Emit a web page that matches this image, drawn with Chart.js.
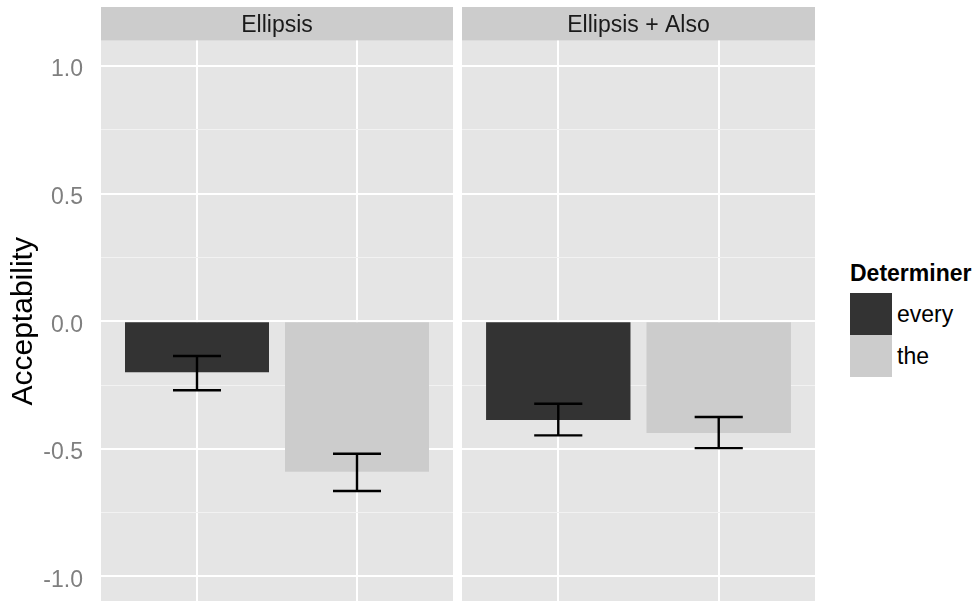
<!DOCTYPE html>
<html>
<head>
    <title>Acceptability by Determiner</title>
    <script src="https://cdn.jsdelivr.net/npm/chart.js"></script>
    <style>
        body {
            margin: 0;
            background: white;
            overflow: hidden;
            font-family: 'Liberation Sans', Arial, sans-serif;
        }

        .page {
            position: relative;
            width: 975px;
            height: 601px;
        }

        canvas {
            position: absolute;
            top: 0;
        }

        .legend-title {
            position: absolute;
            left: 850px;
            top: 260px;
            font-size: 23px;
            line-height: 27px;
            font-weight: bold;
            color: #000;
        }

        .legend-key {
            position: absolute;
            left: 850px;
            width: 42px;
            height: 42px;
        }

        .legend-label {
            position: absolute;
            left: 897px;
            font-size: 23px;
            line-height: 42px;
            color: #000;
        }
    </style>
</head>
<body>
    <div class="page" id="page">
        <canvas id="leftPanel" width="453" height="602" style="left:0"></canvas>
        <canvas id="rightPanel" width="353" height="602" style="left:462px"></canvas>
    </div>

    <script>
        const panels = ['Ellipsis', 'Ellipsis + Also'];
        const determiners = ['every', 'the'];
        const fillColors = ['#333333', '#cccccc'];

        const ellipsisMeans = [-0.20, -0.59];
        const ellipsisLower = [-0.27, -0.665];
        const ellipsisUpper = [-0.136, -0.519];

        const alsoMeans = [-0.387, -0.438];
        const alsoLower = [-0.447, -0.497];
        const alsoUpper = [-0.323, -0.375];

        const yTicks = [-1, -0.75, -0.5, -0.25, 0, 0.25, 0.5, 0.75, 1];
        const yMin = -1.1, yMax = 1.1;

        const font = "'Liberation Sans', Arial, sans-serif";

        // grey panel + strip behind everything, errorbars on top
        const panelPlugin = {
            id: 'panel',
            beforeDraw(chart) {
                const { ctx, chartArea: a } = chart;
                ctx.save();
                ctx.fillStyle = '#e5e5e5';
                ctx.fillRect(a.left, a.top, a.right - a.left, a.bottom - a.top);
                ctx.fillStyle = '#cccccc';
                ctx.fillRect(a.left, 7, a.right - a.left, a.top - 7);
                ctx.restore();
            },
            afterDatasetsDraw(chart) {
                const { ctx, scales: { x, y } } = chart;
                const lo = chart.options.plugins.panel.lower;
                const hi = chart.options.plugins.panel.upper;
                const half = (x.getPixelForValue(2) - x.getPixelForValue(1)) * 0.15;
                ctx.save();
                ctx.strokeStyle = '#000';
                ctx.lineWidth = 2.4;
                lo.forEach((v, i) => {
                    const px = x.getPixelForValue(i + 1);
                    const y1 = y.getPixelForValue(v);
                    const y2 = y.getPixelForValue(hi[i]);
                    ctx.beginPath();
                    ctx.moveTo(px, y1); ctx.lineTo(px, y2);
                    ctx.moveTo(px - half, y1); ctx.lineTo(px + half, y1);
                    ctx.moveTo(px - half, y2); ctx.lineTo(px + half, y2);
                    ctx.stroke();
                });
                ctx.restore();
            }
        };

        const isMajor = v => Math.abs(v * 2 - Math.round(v * 2)) < 1e-6;

        function makePanel(id, title, means, lower, upper, showAxis) {
            return new Chart(document.getElementById(id), {
                type: 'bar',
                data: {
                    datasets: [{
                        data: means.map((m, i) => ({ x: i + 1, y: m })),
                        backgroundColor: fillColors,
                        borderWidth: 0,
                        categoryPercentage: 0.9,
                        barPercentage: 1.0
                    }]
                },
                plugins: [panelPlugin],
                options: {
                    responsive: false,
                    animation: false,
                    layout: { padding: 0 },
                    plugins: {
                        legend: { display: false },
                        tooltip: { enabled: false },
                        title: {
                            display: true,
                            text: title,
                            fullSize: false,
                            color: '#1a1a1a',
                            font: { family: font, size: 23, weight: 'normal' },
                            padding: { top: 12, bottom: 1 }
                        },
                        panel: { lower, upper }
                    },
                    scales: {
                        x: {
                            type: 'linear',
                            min: 0.4,
                            max: 2.6,
                            offset: false,
                            afterBuildTicks: s => { s.ticks = [{ value: 1 }, { value: 2 }]; },
                            afterFit: s => { s.height = 0; },
                            ticks: { display: false },
                            border: { display: false },
                            grid: { offset: false, color: '#ffffff', lineWidth: 2, drawTicks: false }
                        },
                        y: {
                            min: yMin,
                            max: yMax,
                            afterBuildTicks: s => { s.ticks = yTicks.map(v => ({ value: v })); },
                            afterFit: s => {
                                s.width = showAxis ? 101 : 0;
                                s.paddingTop = 0;
                                s.paddingBottom = 0;
                            },
                            border: { display: false },
                            grid: {
                                drawTicks: false,
                                color: c => isMajor(c.tick.value) ? '#ffffff' : '#f2f2f2',
                                lineWidth: c => isMajor(c.tick.value) ? 2 : 1
                            },
                            ticks: {
                                display: showAxis,
                                padding: 18,
                                labelOffset: 4,
                                color: '#7f7f7f',
                                font: { family: font, size: 23 },
                                callback: v => isMajor(v) ? v.toFixed(1) : ''
                            },
                            title: {
                                display: showAxis,
                                text: 'Acceptability',
                                color: '#000',
                                font: { family: font, size: 30 },
                                padding: { top: 6, bottom: 0 }
                            }
                        }
                    }
                }
            });
        }

        makePanel('leftPanel', panels[0], ellipsisMeans, ellipsisLower, ellipsisUpper, true);
        makePanel('rightPanel', panels[1], alsoMeans, alsoLower, alsoUpper, false);

        // legend
        const page = document.getElementById('page');
        const lt = document.createElement('div');
        lt.className = 'legend-title';
        lt.textContent = 'Determiner';
        page.appendChild(lt);
        determiners.forEach((d, i) => {
            const key = document.createElement('div');
            key.className = 'legend-key';
            key.style.top = (293 + i * 42) + 'px';
            key.style.background = fillColors[i];
            page.appendChild(key);
            const lab = document.createElement('div');
            lab.className = 'legend-label';
            lab.style.top = (293 + i * 42) + 'px';
            lab.textContent = d;
            page.appendChild(lab);
        });
    </script>
</body>
</html>
